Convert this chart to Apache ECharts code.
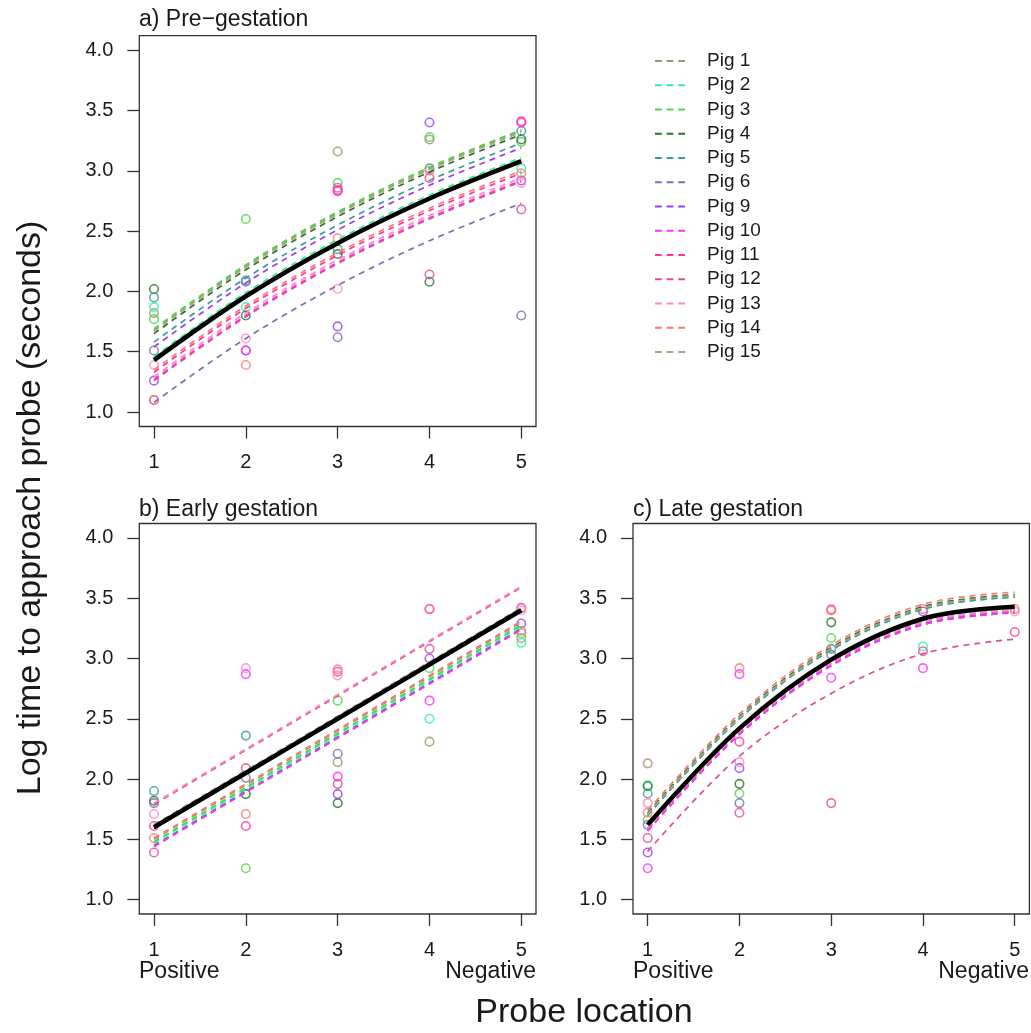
<!DOCTYPE html>
<html>
<head>
<meta charset="utf-8">
<style>html,body{margin:0;padding:0;background:#fff}#c{width:1031px;height:1033px}</style>
<script src="https://cdn.jsdelivr.net/npm/echarts@6/dist/echarts.min.js"></script>
</head>
<body>
<div id="c"></div>
<script>
// ---------- data ----------
const pigs = ['Pig 1','Pig 2','Pig 3','Pig 4','Pig 5','Pig 6','Pig 9','Pig 10','Pig 11','Pig 12','Pig 13','Pig 14','Pig 15'];
const pigColors = ['#A0946A','#33F0A0','#4CD64C','#2E6E2E','#3A9A9A','#7A70B0','#9B3DF5','#FF2EFF','#FF3399','#DD4D9A','#FF88C0','#FF7878','#A8A885'];
const locations = [1, 2, 3, 4, 5];
const xTicks = [1, 2, 3, 4, 5];
const yTicks = [1.0, 1.5, 2.0, 2.5, 3.0, 3.5, 4.0];
const panelTitles = ['a) Pre\u2212gestation', 'b) Early gestation', 'c) Late gestation'];

// fitted population curves (values at locations 1..5)
const meanA = [1.43, 1.96, 2.40, 2.77, 3.08];
const meanB = [1.60, 2.05, 2.50, 2.95, 3.40];
const meanC = [1.62, 2.42, 2.99, 3.33, 3.43];

// fitted per-pig curves (rows in pig order, values at locations 1..5)
const curvesA = [
  [1.68, 2.21, 2.65, 3.02, 3.33],
  [1.46, 1.99, 2.43, 2.80, 3.11],
  [1.69, 2.22, 2.66, 3.03, 3.34],
  [1.65, 2.18, 2.62, 2.99, 3.30],
  [1.58, 2.11, 2.55, 2.92, 3.23],
  [1.08, 1.61, 2.05, 2.42, 2.73],
  [1.54, 2.07, 2.51, 2.88, 3.19],
  [1.27, 1.80, 2.24, 2.61, 2.92],
  [1.33, 1.86, 2.30, 2.67, 2.98],
  [1.26, 1.79, 2.23, 2.60, 2.91],
  [1.29, 1.82, 2.26, 2.63, 2.94],
  [1.35, 1.88, 2.32, 2.69, 3.00],
  [1.67, 2.20, 2.64, 3.01, 3.32]
];
const curvesB = [
  [1.50, 1.95, 2.40, 2.85, 3.30],
  [1.47, 1.92, 2.37, 2.82, 3.27],
  [1.48, 1.93, 2.38, 2.83, 3.28],
  [1.59, 2.04, 2.49, 2.94, 3.39],
  [1.45, 1.90, 2.35, 2.80, 3.25],
  [1.62, 2.07, 2.52, 2.97, 3.42],
  [1.44, 1.89, 2.34, 2.79, 3.24],
  [1.44, 1.89, 2.34, 2.79, 3.24],
  [1.61, 2.06, 2.51, 2.96, 3.41],
  [1.79, 2.24, 2.69, 3.14, 3.59],
  [1.80, 2.25, 2.70, 3.15, 3.60],
  [1.51, 1.96, 2.41, 2.86, 3.31],
  [1.62, 2.07, 2.52, 2.97, 3.42]
];
const curvesC = [
  [1.71, 2.51, 3.08, 3.42, 3.52],
  [1.59, 2.39, 2.96, 3.30, 3.40],
  [1.70, 2.50, 3.07, 3.41, 3.51],
  [1.72, 2.52, 3.09, 3.43, 3.53],
  [1.70, 2.50, 3.07, 3.41, 3.51],
  [1.58, 2.38, 2.95, 3.29, 3.39],
  [1.57, 2.37, 2.94, 3.28, 3.38],
  [1.57, 2.37, 2.94, 3.28, 3.38],
  [1.59, 2.39, 2.96, 3.30, 3.40],
  [1.40, 2.19, 2.71, 3.04, 3.16],
  [1.59, 2.39, 2.96, 3.30, 3.40],
  [1.74, 2.54, 3.11, 3.45, 3.55],
  [1.71, 2.51, 3.08, 3.42, 3.52]
];

// observations: [location, log time, pig]
const pointsA = [
  [1,2.02,'Pig 4'],[1,1.95,'Pig 5'],[1,1.87,'Pig 2'],[1,1.82,'Pig 1'],[1,1.77,'Pig 3'],[1,1.51,'Pig 6'],[1,1.39,'Pig 13'],[1,1.26,'Pig 9'],[1,1.10,'Pig 14'],[1,1.10,'Pig 11'],
  [2,2.60,'Pig 3'],[2,2.09,'Pig 5'],[2,2.08,'Pig 6'],[2,1.87,'Pig 2'],[2,1.80,'Pig 4'],[2,1.61,'Pig 13'],[2,1.51,'Pig 9'],[2,1.51,'Pig 10'],[2,1.39,'Pig 14'],
  [3,3.16,'Pig 1'],[3,2.90,'Pig 3'],[3,2.86,'Pig 12'],[3,2.84,'Pig 11'],[3,2.83,'Pig 10'],[3,2.44,'Pig 14'],[3,2.35,'Pig 5'],[3,2.31,'Pig 4'],[3,2.02,'Pig 13'],[3,1.71,'Pig 9'],[3,1.62,'Pig 6'],
  [4,3.40,'Pig 9'],[4,3.28,'Pig 3'],[4,3.26,'Pig 1'],[4,3.02,'Pig 5'],[4,3.00,'Pig 14'],[4,2.94,'Pig 11'],[4,2.14,'Pig 12'],[4,2.08,'Pig 4'],
  [5,3.41,'Pig 11'],[5,3.40,'Pig 10'],[5,3.33,'Pig 5'],[5,3.26,'Pig 4'],[5,3.24,'Pig 3'],[5,3.02,'Pig 2'],[5,2.98,'Pig 14'],[5,2.92,'Pig 9'],[5,2.90,'Pig 13'],[5,2.68,'Pig 12'],[5,1.80,'Pig 6']
];
const pointsB = [
  [1,1.90,'Pig 5'],[1,1.82,'Pig 4'],[1,1.80,'Pig 6'],[1,1.71,'Pig 13'],[1,1.61,'Pig 11'],[1,1.51,'Pig 14'],[1,1.39,'Pig 12'],
  [2,2.92,'Pig 13'],[2,2.87,'Pig 10'],[2,2.36,'Pig 5'],[2,2.09,'Pig 12'],[2,2.01,'Pig 6'],[2,1.875,'Pig 4'],[2,1.71,'Pig 14'],[2,1.61,'Pig 11'],[2,1.26,'Pig 3'],
  [3,2.91,'Pig 14'],[3,2.89,'Pig 11'],[3,2.86,'Pig 13'],[3,2.65,'Pig 3'],[3,2.21,'Pig 6'],[3,2.14,'Pig 1'],[3,2.02,'Pig 10'],[3,1.96,'Pig 12'],[3,1.875,'Pig 9'],[3,1.80,'Pig 4'],
  [4,3.41,'Pig 11'],[4,3.41,'Pig 14'],[4,3.08,'Pig 12'],[4,3.00,'Pig 9'],[4,2.92,'Pig 3'],[4,2.65,'Pig 10'],[4,2.50,'Pig 2'],[4,2.31,'Pig 1'],
  [5,3.42,'Pig 11'],[5,3.40,'Pig 13'],[5,3.29,'Pig 9'],[5,3.23,'Pig 14'],[5,3.21,'Pig 3'],[5,3.17,'Pig 1'],[5,3.13,'Pig 2']
];
const pointsC = [
  [1,2.13,'Pig 1'],[1,1.95,'Pig 2'],[1,1.94,'Pig 4'],[1,1.88,'Pig 5'],[1,1.80,'Pig 13'],[1,1.72,'Pig 14'],[1,1.66,'Pig 3'],[1,1.62,'Pig 6'],[1,1.51,'Pig 12'],[1,1.39,'Pig 9'],[1,1.26,'Pig 10'],
  [2,2.92,'Pig 14'],[2,2.87,'Pig 10'],[2,2.31,'Pig 11'],[2,2.14,'Pig 13'],[2,2.09,'Pig 9'],[2,1.96,'Pig 4'],[2,1.88,'Pig 3'],[2,1.80,'Pig 6'],[2,1.72,'Pig 12'],
  [3,3.41,'Pig 14'],[3,3.40,'Pig 11'],[3,3.30,'Pig 4'],[3,3.17,'Pig 3'],[3,3.08,'Pig 5'],[3,3.03,'Pig 6'],[3,2.84,'Pig 10'],[3,1.80,'Pig 12'],
  [4,3.41,'Pig 14'],[4,3.39,'Pig 9'],[4,3.10,'Pig 2'],[4,3.06,'Pig 12'],[4,2.92,'Pig 10'],
  [5,3.41,'Pig 14'],[5,3.39,'Pig 13'],[5,3.22,'Pig 11']
];

// ---------- chart ----------
const FONT = 'Liberation Sans, Arial, sans-serif';
const TXT = '#1a1a1a';
const AX = '#333';
const grids = [
  {left: 139.3, top: 35.7, width: 396.7, height: 390.8},
  {left: 139.3, top: 523.5, width: 396.7, height: 390.5},
  {left: 633.0, top: 523.5, width: 396.4, height: 390.5}
].map(g => Object.assign(g, {show: true, borderColor: AX, borderWidth: 1.3, backgroundColor: 'transparent', containLabel: false}));

const xAxes = [0,1,2].map(i => ({
  gridIndex: i, type: 'value', min: 0.84, max: 5.16,
  axisLine: {show: false}, splitLine: {show: false},
  axisTick: {show: true, customValues: xTicks, length: 12, lineStyle: {color: AX, width: 1.3}},
  axisLabel: {customValues: xTicks, margin: 26, fontSize: 20, color: TXT, fontFamily: FONT}
}));
const yAxes = [0,1,2].map(i => ({
  gridIndex: i, type: 'value', min: 0.88, max: 4.12,
  axisLine: {show: false}, splitLine: {show: false},
  axisTick: {show: true, customValues: yTicks, length: 12, lineStyle: {color: AX, width: 1.3}},
  axisLabel: {customValues: yTicks, margin: 26, fontSize: 20, color: TXT, fontFamily: FONT, formatter: v => Number(v).toFixed(1)}
}));

const series = [];
const curveSets = [curvesA, curvesB, curvesC];
const meanSets = [meanA, meanB, meanC];
const pointSets = [pointsA, pointsB, pointsC];

// dashed per-pig curves
curveSets.forEach((cs, p) => {
  cs.forEach((vals, i) => {
    series.push({
      name: pigs[i], type: 'line', xAxisIndex: p, yAxisIndex: p,
      data: locations.map((x, j) => [x, vals[j]]),
      smooth: 0.35, symbol: 'none', silent: true, z: 3,
      itemStyle: {color: pigColors[i]},
      lineStyle: {color: pigColors[i], width: 1.7, type: [6, 5]},
      emphasis: {disabled: true}
    });
  });
});
// observations
pointSets.forEach((ps, p) => {
  pigs.forEach((pig, i) => {
    const d = ps.filter(r => r[2] === pig).map(r => [r[0], r[1]]);
    if (!d.length) return;
    series.push({
      name: pig, type: 'scatter', xAxisIndex: p, yAxisIndex: p, data: d,
      symbol: 'circle', symbolSize: 8.5, silent: true, z: 2,
      itemStyle: {color: 'rgba(255,255,255,0)', borderColor: pigColors[i], borderWidth: 1.6},
      emphasis: {disabled: true}
    });
  });
});
// population curves
meanSets.forEach((m, p) => {
  series.push({
    name: 'mean' + p, type: 'line', xAxisIndex: p, yAxisIndex: p,
    data: locations.map((x, j) => [x, m[j]]),
    smooth: 0.35, symbol: 'none', silent: true, z: 5,
    lineStyle: {color: '#000', width: 4.5}, itemStyle: {color: '#000'},
    emphasis: {disabled: true}
  });
});

const txt = (text, x, y, size, align, extra) => Object.assign({
  type: 'text', x: x, y: y, silent: true,
  style: {text: text, fill: TXT, font: size + 'px ' + FONT, textAlign: align, textVerticalAlign: 'middle'}
}, extra || {});

const option = {
  animation: false,
  backgroundColor: '#fff',
  grid: grids,
  xAxis: xAxes,
  yAxis: yAxes,
  legend: {
    orient: 'vertical', left: 650, top: 46,
    itemWidth: 30, itemHeight: 2, itemGap: 4.25,
    icon: 'path://M0 0H7V2H0Z M12 0H19V2H12Z M24 0H31V2H24Z',
    itemStyle: {borderWidth: 0},
    selectedMode: false,
    data: pigs,
    textStyle: {fontSize: 19, color: TXT, fontFamily: FONT, lineHeight: 20, padding: [0, 0, 0, 17]}
  },
  graphic: [
    txt(panelTitles[0], 139, 20, 23, 'left'),
    txt(panelTitles[1], 139, 510, 23, 'left'),
    txt(panelTitles[2], 633, 510, 23, 'left'),
    txt('Positive', 139, 972, 23, 'left'),
    txt('Negative', 536, 972, 23, 'right'),
    txt('Positive', 633, 972, 23, 'left'),
    txt('Negative', 1029, 972, 23, 'right'),
    txt('Probe location', 584, 1013, 34, 'center'),
    txt('Log time to approach probe (seconds)', 31, 508, 34, 'center', {rotation: Math.PI / 2})
  ],
  series: series
};

const chart = echarts.init(document.getElementById('c'), null, {renderer: 'canvas'});
chart.setOption(option);
</script>
</body>
</html>
